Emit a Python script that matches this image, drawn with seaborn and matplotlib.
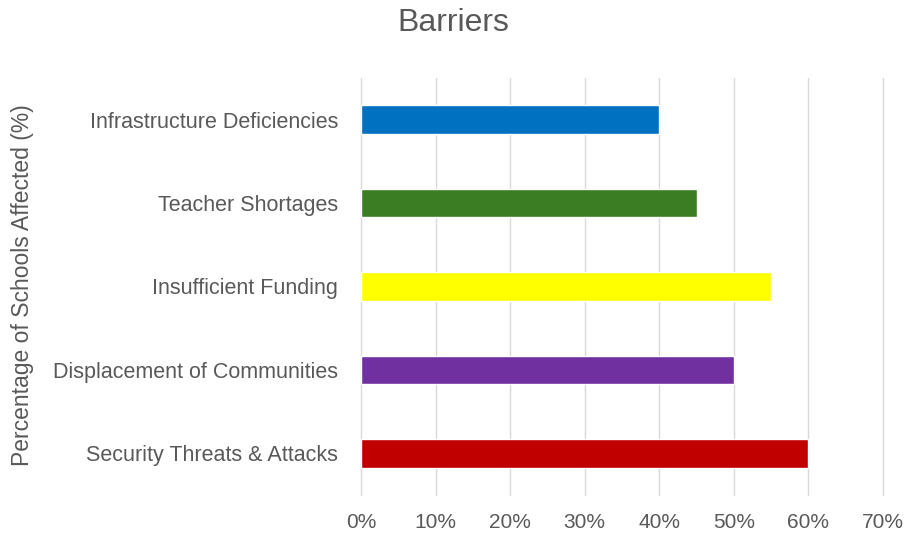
import matplotlib
matplotlib.use("Agg")
import matplotlib.pyplot as plt
import seaborn as sns
import pandas as pd
from matplotlib.ticker import PercentFormatter

# Datos
categorias = ["Infrastructure Deficiencies", "Teacher Shortages", "Insufficient Funding",
              "Displacement of Communities", "Security Threats & Attacks"]
valores = [40, 45, 55, 50, 60]
colores = ["#0070C0", "#3A7D22", "#FFFF00", "#7030A0", "#C00000"]
ticks_x = [0, 10, 20, 30, 40, 50, 60, 70]

df = pd.DataFrame({"categoria": categorias, "valor": valores})

sns.set_style("white")
plt.rcParams["font.family"] = ["Liberation Sans", "DejaVu Sans"]

gris = "#595959"
fig = plt.figure(figsize=(9.07, 5.37), dpi=100)
ax = fig.add_axes([0.398, 0.078, 0.5755, 0.777])

# Barras horizontales, un color por categoría
sns.barplot(data=df, x="valor", y="categoria", hue="categoria", palette=colores,
            legend=False, width=0.34, saturation=1, ax=ax, zorder=3)

ax.set_xlim(0, 70)
ax.set_ylim(4.5, -0.5)
ax.set_xticks(ticks_x)
ax.xaxis.set_major_formatter(PercentFormatter(decimals=0))
ax.grid(axis="x", color="#D9D9D9", linewidth=1, zorder=0)
for linea in ax.get_xgridlines():
    linea.set_clip_on(False)
for s in ax.spines.values():
    s.set_visible(False)
ax.tick_params(axis="x", length=0, labelsize=15, colors=gris, pad=13)
ax.tick_params(axis="y", length=0, labelsize=15.5, colors=gris, pad=16.5)
ax.set_xlabel("")
ax.set_ylabel("")

# Títulos
fig.text(0.025, 0.469, "Percentage of Schools Affected (%)", rotation=90, ha="center", va="center",
         fontsize=16.5, color=gris)
fig.text(0.5, 0.958, "Barriers", ha="center", va="center", fontsize=23, color=gris)

fig.savefig("out.png", dpi=100)
